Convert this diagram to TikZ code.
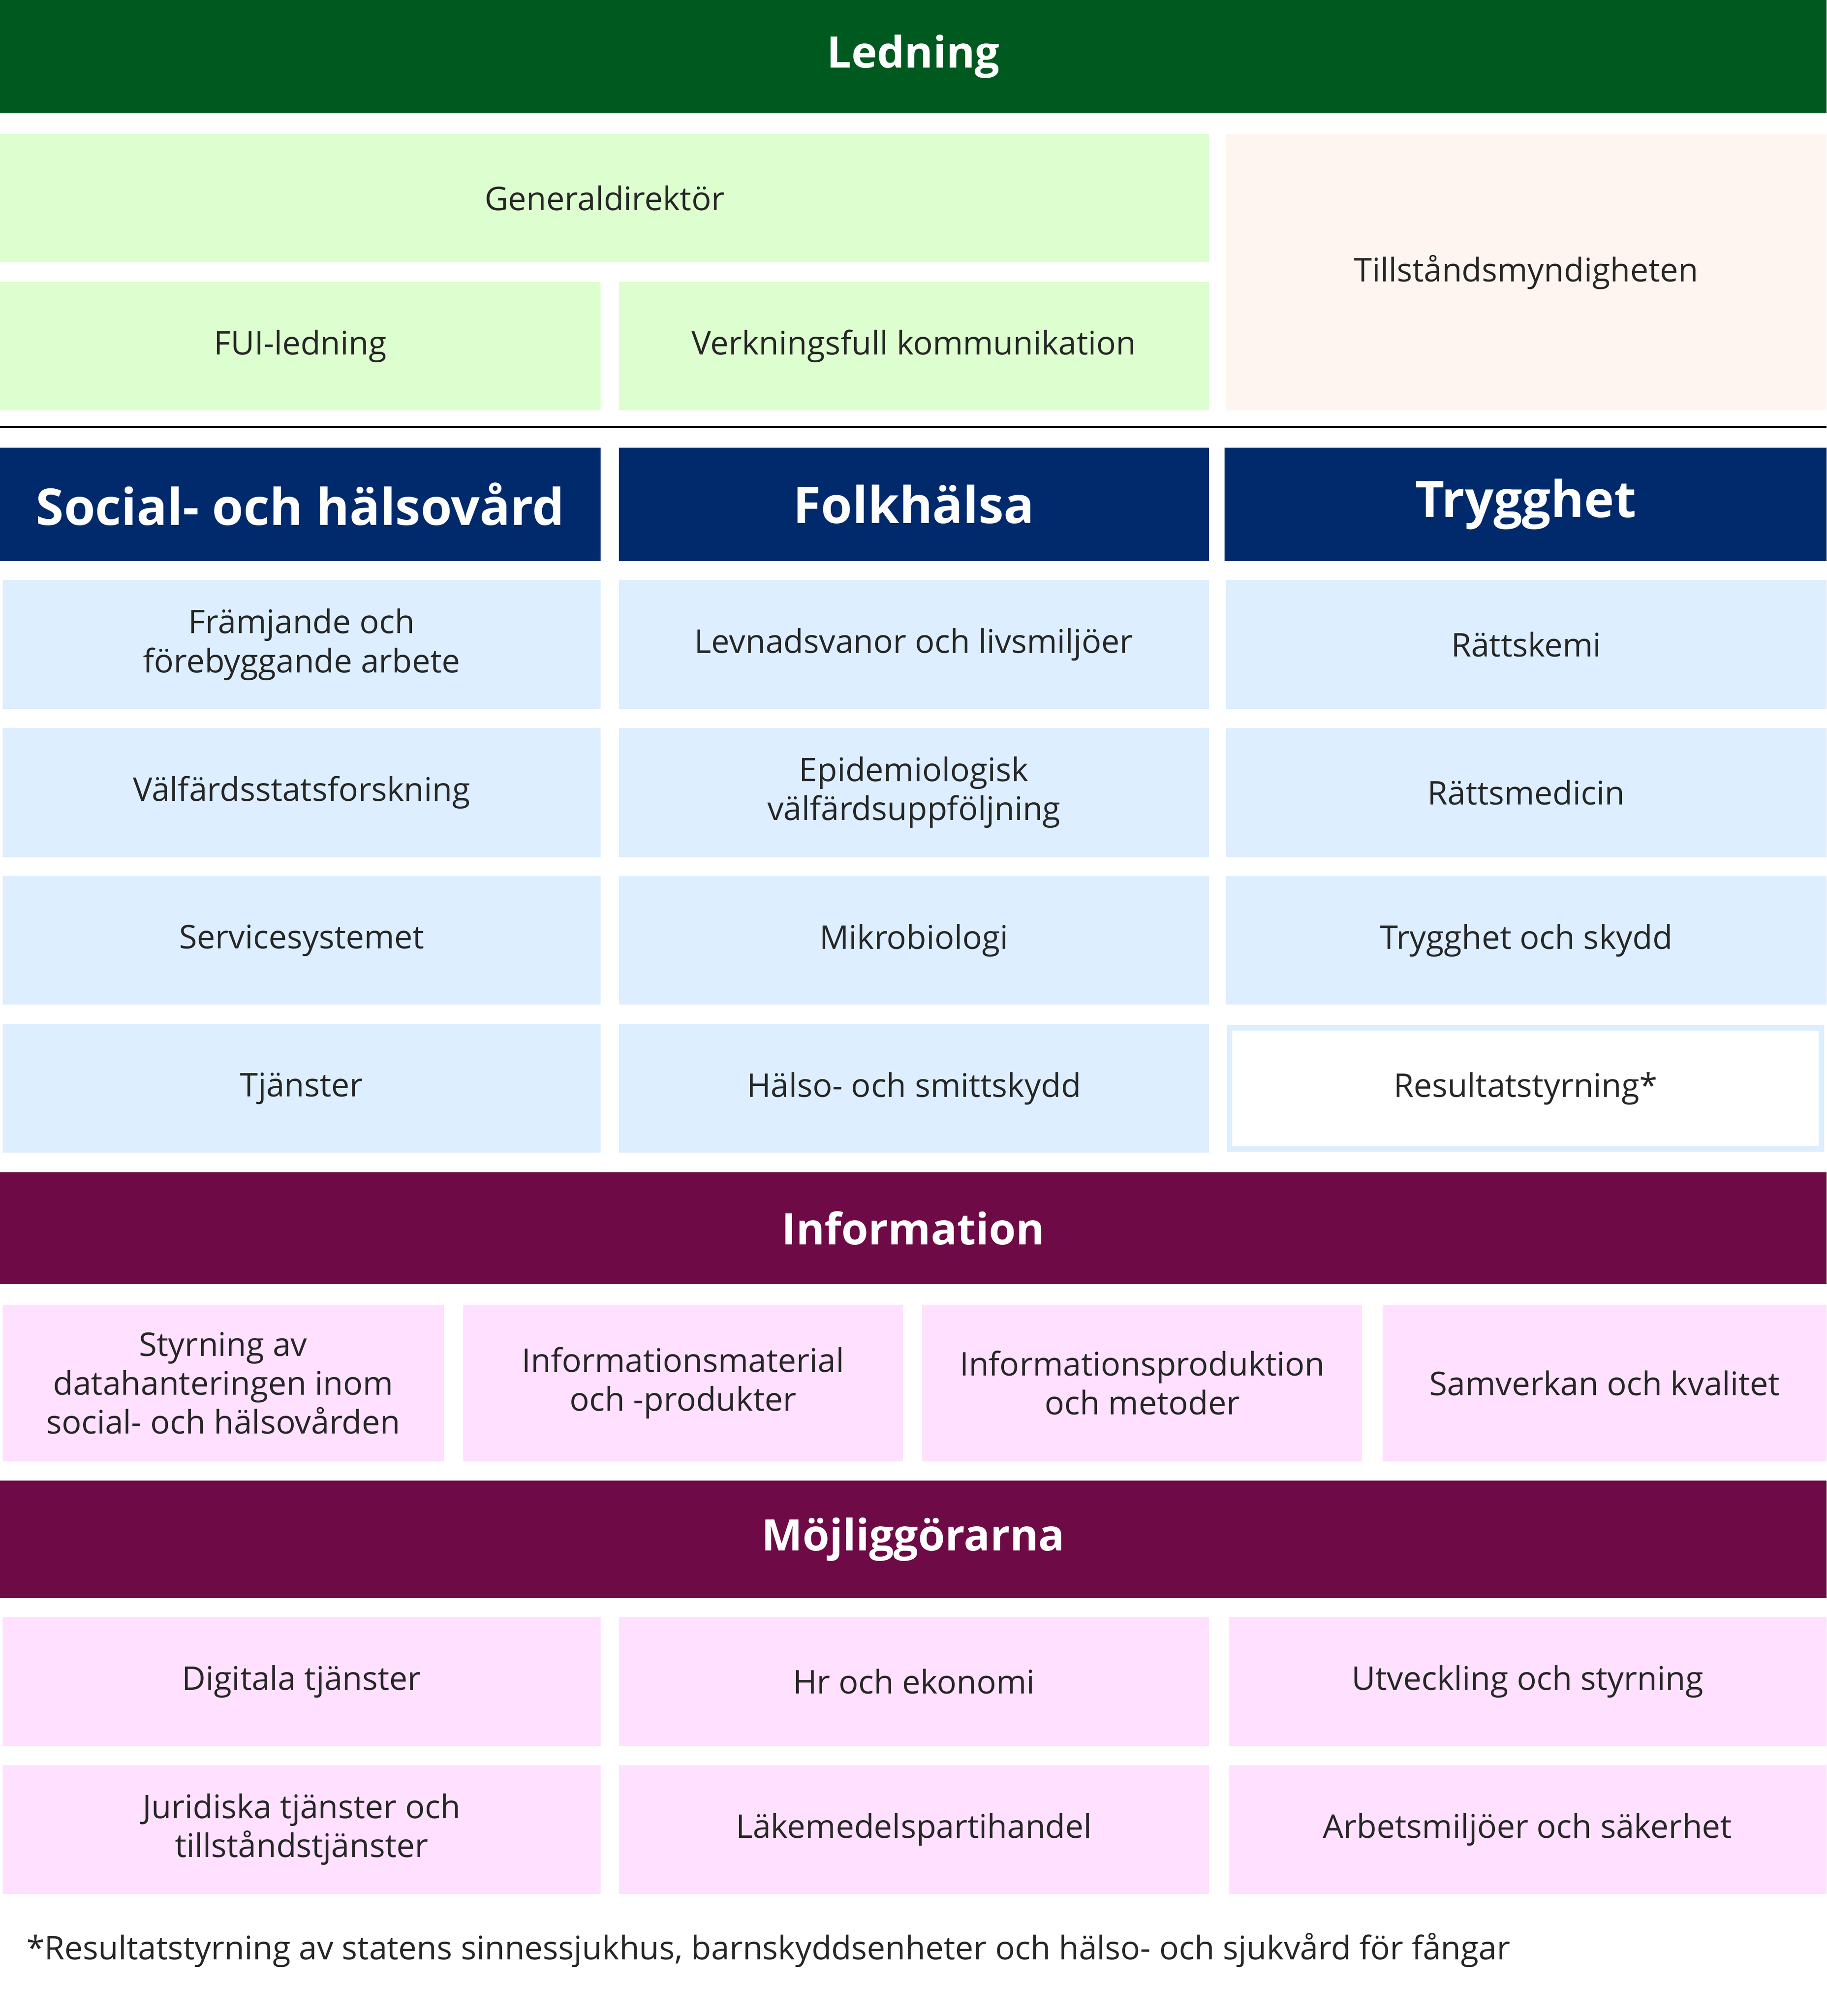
\documentclass[tikz,border=0pt]{standalone}
\usepackage{fontspec}
\setmainfont{Open Sans}
\definecolor{ledgreen}{HTML}{005A20}
\definecolor{palegreen}{HTML}{DDFFD0}
\definecolor{palepeach}{HTML}{FFF5F0}
\definecolor{navyhead}{HTML}{002A6C}
\definecolor{paleblue}{HTML}{DCEEFF}
\definecolor{plumbar}{HTML}{6E0A46}
\definecolor{palepink}{HTML}{FFE0FF}
\tikzset{
  cell/.style={inner sep=0pt,align=center,font=\fontsize{7.2}{8.6}\selectfont,text=black!85},
  bar/.style={cell,text=white,font=\fontsize{9.6}{11}\bfseries\selectfont},
}
% box from corner to corner with a centred label
\newcommand{\cellbox}[7]{%
  \fill[#6] (#2,#3) rectangle (#4,#5);
  \node[cell] (#1) at ({(#2+#4)/2},{(#3+#5)/2}) {#7};}
\newcommand{\barbox}[7]{%
  \fill[#6] (#2,#3) rectangle (#4,#5);
  \node[bar] (#1) at ({(#2+#4)/2},{(#3+#5)/2}) {#7};}
\begin{document}
\begin{tikzpicture}[x=0.01cm,y=-0.01cm]
\useasboundingbox (0,0) rectangle (1420,1567);
% ledning
\barbox{ledning}{0}{0}{1420}{88}{ledgreen}{Ledning}
\cellbox{gd}{0}{104}{940}{204}{palegreen}{Generaldirektör}
\cellbox{fui}{0}{219}{467}{319}{palegreen}{FUI-ledning}
\cellbox{komm}{481}{219}{940}{319}{palegreen}{Verkningsfull kommunikation}
\cellbox{tillst}{953}{104}{1420}{319}{palepeach}{Tillståndsmyndigheten}
\draw[line width=0.4pt] (0,332) -- (1420,332);
% avdelningar
\barbox{social}{0}{348}{467}{436}{navyhead}{\fontsize{11.2}{13}\selectfont Social- och hälsovård}
\barbox{folk}{481}{348}{940}{436}{navyhead}{\fontsize{11.2}{13}\selectfont Folkhälsa}
\barbox{trygg}{952}{348}{1420}{436}{navyhead}{\fontsize{11.2}{13}\selectfont Trygghet}
\cellbox{s1}{2}{451}{467}{551}{paleblue}{Främjande och\\förebyggande arbete}
\cellbox{s2}{2}{566}{467}{666}{paleblue}{Välfärdsstatsforskning}
\cellbox{s3}{2}{681}{467}{781}{paleblue}{Servicesystemet}
\cellbox{s4}{2}{796}{467}{896}{paleblue}{Tjänster}
\cellbox{f1}{481}{451}{940}{551}{paleblue}{Levnadsvanor och livsmiljöer}
\cellbox{f2}{481}{566}{940}{666}{paleblue}{Epidemiologisk\\välfärdsuppföljning}
\cellbox{f3}{481}{681}{940}{781}{paleblue}{Mikrobiologi}
\cellbox{f4}{481}{796}{940}{896}{paleblue}{Hälso- och smittskydd}
\cellbox{t1}{953}{451}{1420}{551}{paleblue}{Rättskemi}
\cellbox{t2}{953}{566}{1420}{666}{paleblue}{Rättsmedicin}
\cellbox{t3}{953}{681}{1420}{781}{paleblue}{Trygghet och skydd}
\draw[paleblue,line width=1.2pt,fill=white] (956,799) rectangle (1416,893);
\node[cell] (t4) at (1186,846) {Resultatstyrning*};
% information
\barbox{info}{0}{911}{1420}{998}{plumbar}{Information}
\cellbox{i1}{2}{1014}{345}{1136}{palepink}{Styrning av\\datahanteringen inom\\social- och hälsovården}
\cellbox{i2}{360}{1014}{702}{1136}{palepink}{Informationsmaterial\\och -produkter}
\cellbox{i3}{717}{1014}{1059}{1136}{palepink}{Informationsproduktion\\och metoder}
\cellbox{i4}{1075}{1014}{1420}{1136}{palepink}{Samverkan och kvalitet}
% möjliggörarna
\barbox{mojl}{0}{1151}{1420}{1242}{plumbar}{Möjliggörarna}
\cellbox{m1}{2}{1257}{467}{1357}{palepink}{Digitala tjänster}
\cellbox{m2}{481}{1257}{940}{1357}{palepink}{Hr och ekonomi}
\cellbox{m3}{955}{1257}{1420}{1357}{palepink}{Utveckling och styrning}
\cellbox{m4}{2}{1372}{467}{1472}{palepink}{Juridiska tjänster och\\tillståndstjänster}
\cellbox{m5}{481}{1372}{940}{1472}{palepink}{Läkemedelspartihandel}
\cellbox{m6}{955}{1372}{1420}{1472}{palepink}{Arbetsmiljöer och säkerhet}
\node[cell,anchor=west] (fotnot) at (20,1516) {*Resultatstyrning av statens sinnessjukhus, barnskyddsenheter och hälso- och sjukvård för fångar};
\end{tikzpicture}
\end{document}
